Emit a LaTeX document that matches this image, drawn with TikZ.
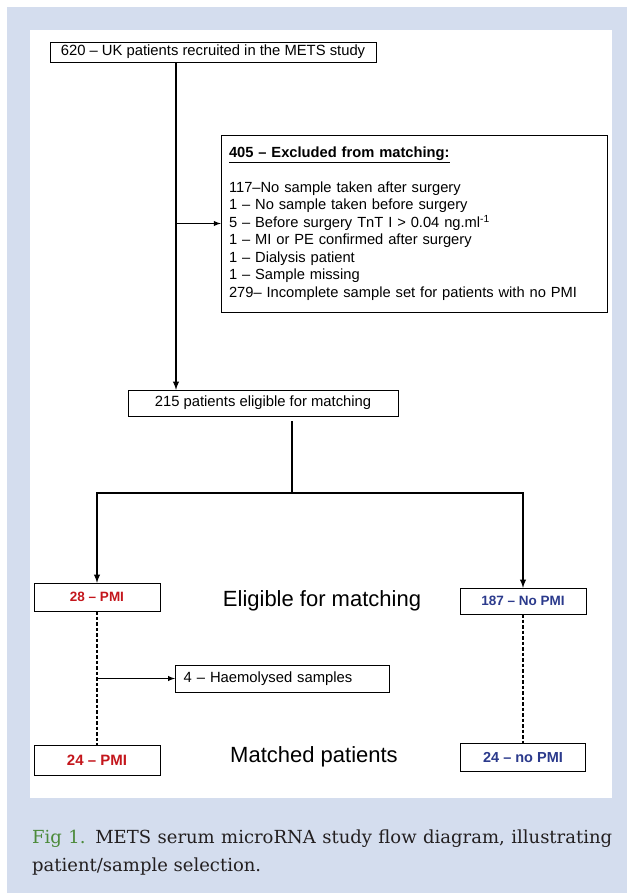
\documentclass[tikz,border=0pt]{standalone}
\usepackage{fontspec}
\setmainfont{Liberation Sans}
\newfontfamily\capfont{DejaVu Serif}
\usepackage{tikz}
\usetikzlibrary{arrows,calc,positioning}
\usepackage{xcolor}
\definecolor{panelblue}{HTML}{D4DDEE}
\definecolor{pmired}{HTML}{C4161C}
\definecolor{nopmiblue}{HTML}{2B3A8C}
\definecolor{figgreen}{HTML}{4B8A3A}
\definecolor{captext}{HTML}{231F20}

\tikzset{
  flowbox/.style={draw,thin,rectangle,inner sep=2pt,font=\fontsize{14.8}{17}\selectfont},
  groupbox/.style={flowbox,minimum width=126pt,font=\bfseries\fontsize{13.5}{15}\selectfont},
  stagelabel/.style={font=\fontsize{22}{25}\selectfont},
  branch/.style={line width=1.8pt,-latex},
  dashline/.style={line width=1.1pt,dash pattern=on 3.5pt off 2pt}
}

\begin{document}
\begin{tikzpicture}[x=1pt,y=-1pt]
    % background and white panel
    \useasboundingbox (0,0) rectangle (627,895);
    \fill[white] (0,0) rectangle (627,895);
    \fill[panelblue] (7,7) rectangle (627,893);
    \fill[white] (30,30) rectangle (612,798);

    % boxes
    \node[flowbox,minimum width=326pt,minimum height=20pt] (recruit) at (213,52) {620 \textendash{} UK patients recruited in the METS study};
    \node[flowbox,minimum width=386pt,minimum height=177pt,text width=370pt,align=left,
          font=\fontsize{14.7}{17.5}\selectfont] (excl) at (414,223.5)
        {\underline{\textbf{405 \textendash{} Excluded from matching:}}\\[17.5pt]
         117\textendash{}No sample taken after surgery\\
         1 \textendash{} No sample taken before surgery\\
         5 \textendash{} Before surgery TnT I {\textgreater} 0.04 ng.ml\textsuperscript{-1}\\
         1 \textendash{} MI or PE confirmed after surgery\\
         1 \textendash{} Dialysis patient\\
         1 \textendash{} Sample missing\\
         279\textendash{} Incomplete sample set for patients with no PMI};
    \node[flowbox,minimum width=270pt,minimum height=26pt] (elig) at (263,403) {215 patients eligible for matching};

    \node[groupbox,minimum height=28pt,text=pmired] (pmi) at (97,597) {28 \textendash{} PMI};
    \node[groupbox,minimum height=26pt,text=nopmiblue] (nopmi) at (523,601) {187 \textendash{} No PMI};
    \node[stagelabel] (eliglabel) at (322,601) {Eligible for matching};

    \node[flowbox,minimum height=27pt,text width=197pt,inner xsep=8.5pt,align=left,anchor=west] (haem) at (175,678.5) {4 \textendash{} Haemolysed samples};

    \node[groupbox,minimum height=30pt,text=pmired,font=\bfseries\fontsize{15}{17}\selectfont] (pmimatch) at (97,760) {24 \textendash{} PMI};
    \node[groupbox,minimum height=28pt,text=nopmiblue,minimum width=125pt,font=\bfseries\fontsize{14.5}{17}\selectfont] (nopmimatch) at (523,757) {24 \textendash{} no PMI};
    \node[stagelabel] (matchlabel) at (314,757) {Matched patients};

    % connectors
    \coordinate (stem) at (176,62);
    \coordinate (split) at (292,493);
    \draw[branch] (recruit.south -| stem) -- (elig.north -| stem);
    \draw[line width=1.4pt,-latex] (excl.west -| stem) -- (excl.west);
    \draw[line width=1.3pt] ($(elig.south -| split)+(0,5)$) -- (split);
    \draw[branch] (split) -| (pmi.north);
    \draw[branch] (split) -| (nopmi.north);
    \draw[dashline] (pmi.south) -- (pmimatch.north);
    \draw[dashline] (nopmi.south) -- (nopmimatch.north);
    \draw[line width=1.4pt,-latex] (pmi.south |- haem.west) -- (haem.west);

    % caption
    \node[anchor=north west,inner sep=0pt,text width=580pt,align=justify,text=captext,
          font=\capfont\fontsize{18}{28}\selectfont] (caption) at (32,830)
        {\textcolor{figgreen}{Fig 1.} METS serum microRNA study flow diagram, illustrating\linebreak
         patient/sample selection.};
\end{tikzpicture}
\end{document}
